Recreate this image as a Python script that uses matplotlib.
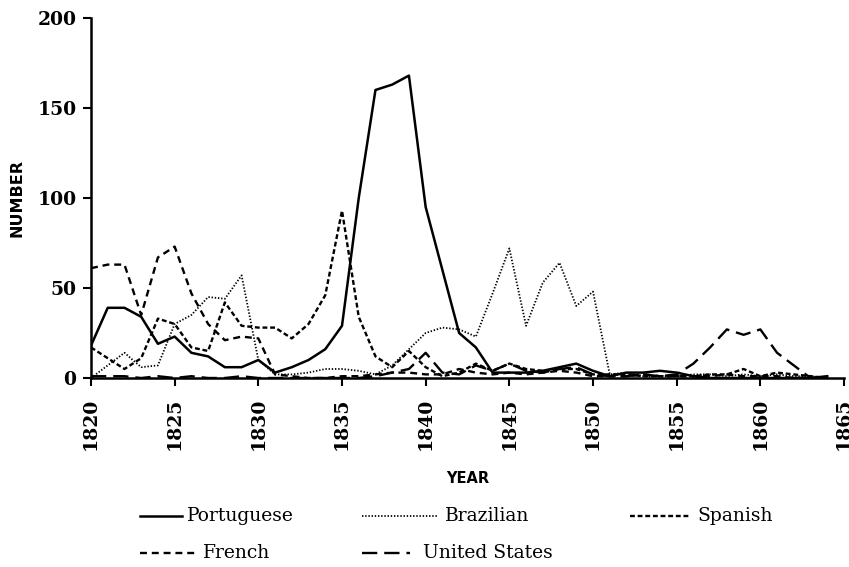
import numpy as np
import matplotlib
matplotlib.use("Agg")
import matplotlib.pyplot as plt
from matplotlib.lines import Line2D

plt.rcParams['lines.scale_dashes'] = False

years = list(range(1820, 1865))

portuguese = [18, 39, 39, 34, 19, 23, 14, 12, 6, 6,
              10, 3, 6, 10, 16, 29, 100, 160, 163, 168,
              95, 60, 25, 17, 3, 3, 3, 4, 6, 8,
              4, 1, 3, 3, 4, 3, 1, 0, 0, 0,
              0, 0, 0, 0, 1]
brazilian = [0, 7, 14, 6, 7, 30, 35, 45, 44, 57,
             10, 2, 2, 3, 5, 5, 4, 2, 7, 16,
             25, 28, 27, 23, 47, 72, 29, 53, 64, 40,
             48, 2, 3, 1, 1, 1, 2, 2, 1, 2,
             1, 2, 1, 1, 0]
spanish = [17, 11, 5, 11, 33, 30, 17, 15, 42, 29,
           28, 28, 22, 30, 46, 93, 34, 12, 6, 15,
           6, 1, 3, 8, 4, 8, 5, 4, 5, 5,
           2, 2, 2, 1, 1, 1, 1, 2, 2, 5,
           1, 3, 2, 1, 0]
french = [61, 63, 63, 35, 67, 73, 47, 30, 21, 23,
          22, 2, 1, 0, 0, 1, 1, 2, 3, 3,
          2, 2, 5, 3, 2, 3, 2, 3, 4, 3,
          1, 1, 1, 2, 1, 1, 1, 1, 2, 1,
          1, 1, 0, 0, 0]
united_states = [1, 1, 1, 0, 1, 0, 1, 0, 0, 1,
                 0, 0, 0, 0, 0, 0, 0, 1, 3, 5,
                 14, 3, 2, 7, 4, 8, 4, 3, 5, 6,
                 2, 1, 1, 2, 1, 2, 8, 17, 27, 24,
                 27, 14, 7, 0, 0]

xticks = list(range(1820, 1870, 5))
yticks = [0, 50, 100, 150, 200]

styles = {
    "Portuguese": dict(ls="-", lw=1.8),
    "Brazilian": dict(ls=(0, (1.0, 1.3)), lw=1.3),
    "Spanish": dict(ls=(0, (3.5, 2.0)), lw=1.7),
    "French": dict(ls=(0, (5.0, 3.5)), lw=1.7),
    "United States": dict(ls=(0, (11.0, 5.0)), lw=1.7),
}
series = {
    "Portuguese": portuguese,
    "Brazilian": brazilian,
    "Spanish": spanish,
    "French": french,
    "United States": united_states,
}

W, H = 849, 567
fig = plt.figure(figsize=(W / 100, H / 100), dpi=100)
ax = fig.add_axes([91 / W, 1 - 378 / H, (844 - 91) / W, (378 - 18) / H])

for name, vals in series.items():
    ax.plot(years, vals, color="black", **styles[name])

ax.set_xlim(1820, 1865)
ax.set_ylim(0, 200)
ax.set_xticks(xticks)
ax.set_yticks(yticks)
ax.set_xticklabels([str(t) for t in xticks], rotation=90,
                   family="DejaVu Serif", fontsize=13.5, fontweight="bold")
ax.set_yticklabels([str(t) for t in yticks],
                   family="DejaVu Serif", fontsize=13.5, fontweight="bold")
ax.tick_params(axis="both", direction="out", length=6, width=1.5)
ax.tick_params(axis="y", pad=4.5)
ax.tick_params(axis="x", pad=8)
for s in ("top", "right"):
    ax.spines[s].set_visible(False)
for s in ("left", "bottom"):
    ax.spines[s].set_linewidth(1.8)

ax.set_xlabel("YEAR", family="DejaVu Sans", fontsize=10.5, fontweight="bold", labelpad=15)
ax.set_ylabel("NUMBER", family="DejaVu Sans", fontsize=11.5, fontweight="bold", labelpad=9)

# legend drawn by hand so that the columns sit where they do in the original
legend_items = [
    ("Portuguese", 140, 182, 187, 516),
    ("Brazilian", 362, 438, 445, 516),
    ("Spanish", 630, 690, 697, 516),
    ("French", 140, 196, 203, 553),
    ("United States", 362, 410, 423, 553),
]
for name, x0, x1, xt, y in legend_items:
    yf = 1 - y / H
    fig.add_artist(Line2D([x0 / W, x1 / W], [yf, yf], transform=fig.transFigure,
                          color="black", **styles[name]))
    fig.text(xt / W, yf, name, family="DejaVu Serif", fontsize=13.5,
             va="center", ha="left")

fig.savefig("out.png", dpi=100)
